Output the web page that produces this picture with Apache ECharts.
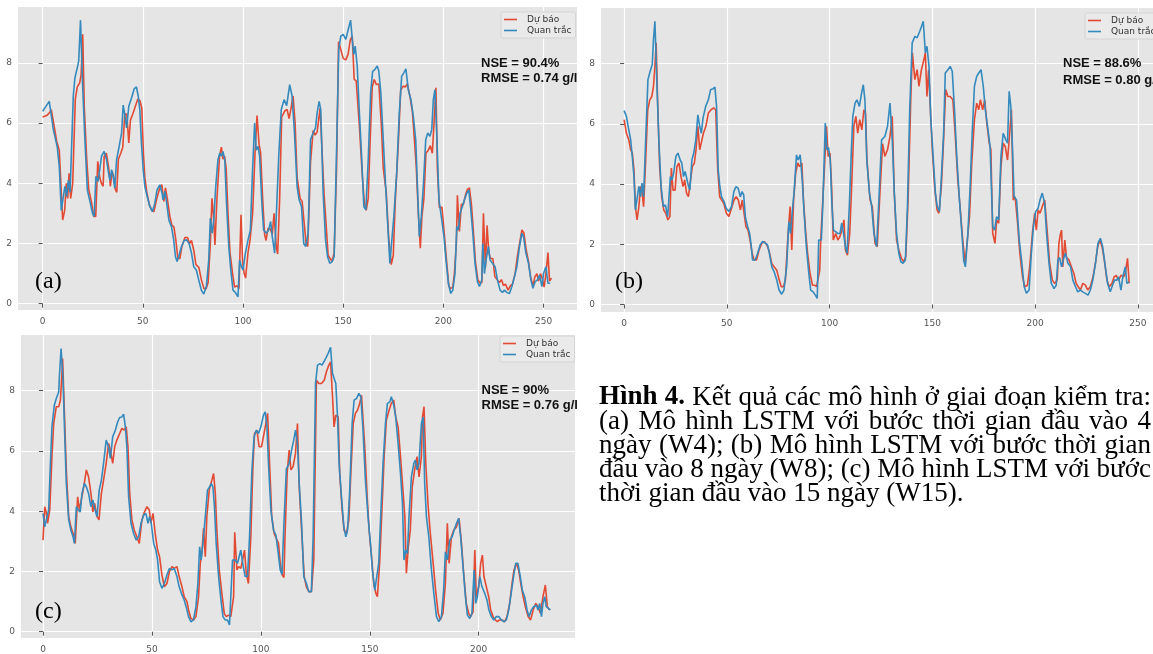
<!DOCTYPE html>
<html>
<head>
<meta charset="utf-8">
<script type="text/javascript" src="https://cdn.jsdelivr.net/npm/echarts@6/dist/echarts.min.js"></script>
<style>
  body { margin: 0; background: #fff; }
  #main { width: 1153px; height: 654px; }
</style>
</head>
<body>
<div id="main"></div>
<script type="text/javascript">
// ---- so lieu doc tu hinh: [buoc thoi gian, do man g/l] ----
// (a) W4
var duBaoA = [[0,6.2],[2,6.25],[3.5,6.35],[4.3,6.45],[5.5,6.0],[7,5.4],[8.3,5.1],[9.3,3.7],[10,2.78],[11,3.1],[11.8,4.0],[12.5,3.5],[13.2,4.33],[14,3.5],[15,4.0],[16.3,6.8],[17.3,7.2],[18.5,7.34],[19.2,7.6],[20,8.95],[20.8,6.5],[22,4.8],[23,3.8],[24.3,3.4],[25.5,2.9],[26.5,2.9],[27.5,4.73],[28.5,4.2],[29.3,4.0],[30.2,3.9],[30.7,4.9],[31.8,5.0],[33,4.5],[33.8,3.9],[34.7,4.4],[35.5,4.2],[36.3,3.8],[37,3.7],[37.8,4.8],[39,5.0],[40,5.2],[41,6.3],[42,6.3],[43,5.34],[43.8,6.1],[45,6.3],[46.5,6.6],[47.5,6.8],[48.5,6.75],[49.5,6.5],[50.3,5.0],[51,4.2],[52,3.7],[53.2,3.3],[54.5,3.1],[55.5,3.05],[57,3.5],[58.5,3.85],[59.5,3.95],[60.5,3.4],[61.3,3.85],[62.2,3.5],[63.5,2.9],[64.5,2.6],[65.5,2.55],[66.5,2.1],[67.5,1.5],[68.5,1.5],[69.5,1.9],[71,2.2],[72.3,2.2],[73.3,2.0],[74.3,2.1],[75.5,1.75],[76.5,1.3],[78,1.2],[79.2,0.8],[80.5,0.5],[81.6,0.5],[82.6,0.7],[83.7,2.0],[84.5,3.5],[85.3,2.9],[86,1.95],[87,3.5],[88.3,4.9],[89.2,5.2],[90,4.8],[90.8,4.9],[91.6,4.5],[92.5,3.0],[93.5,1.7],[94.8,1.0],[95.8,0.55],[97,0.6],[98,0.5],[99,2.95],[99.8,1.4],[100.6,1.0],[101.3,0.85],[102.5,1.7],[103.5,2.1],[104.8,3.0],[106,5.0],[107,6.25],[108,5.3],[108.8,5.0],[109.8,3.5],[110.8,2.3],[111.5,2.1],[112.5,2.5],[113.5,2.5],[114.6,2.3],[115.5,3.0],[116.6,1.9],[117.3,1.65],[118.3,3.5],[119.3,6.2],[120.8,6.4],[122,6.45],[123,6.15],[124,6.5],[125,6.9],[126,6.0],[127,4.2],[128.5,3.5],[129.5,3.4],[130.5,2.7],[131.5,2.0],[132.3,1.9],[133,3.2],[133.7,4.7],[135,5.75],[136,5.6],[137,5.7],[138.5,6.5],[139.5,5.0],[140.5,3.6],[141.5,2.6],[142.5,1.6],[143.5,1.5],[144.5,1.4],[145.5,1.7],[146.7,4.5],[147.7,8.7],[149,8.4],[150,8.15],[151.3,8.1],[152.5,8.3],[153.5,8.75],[154.5,8.9],[155.5,7.45],[156.5,7.4],[158,6.0],[159.5,4.3],[160.5,3.4],[161.5,3.1],[162.5,3.5],[163.5,5.5],[164.5,7.2],[165.5,7.45],[166.5,7.28],[167.8,7.3],[169,6.0],[170,4.5],[171.5,3.7],[172.7,2.2],[174,1.3],[175,1.6],[176,3.4],[177.5,5.3],[178.7,7.1],[180,7.23],[181,7.2],[182,7.3],[183.3,6.9],[184.5,6.4],[185.5,5.5],[186.5,4.5],[187.5,3.0],[188.5,1.84],[189.3,2.9],[190.3,3.5],[191.3,5.0],[192.5,5.1],[193.5,5.25],[194.5,5.0],[196.3,7.17],[197,4.5],[198,3.2],[199.3,3.2],[200.5,2.3],[201.5,1.5],[202.7,0.6],[203.5,0.5],[204.7,0.55],[205.5,1.0],[206.5,2.0],[207,3.6],[208,2.4],[209,3.3],[210,3.3],[211,3.6],[212,3.8],[213,3.85],[214,3.3],[215,2.4],[216,1.4],[217.2,0.8],[218.2,0.7],[219.2,0.7],[220,3.0],[221,1.2],[221.8,2.6],[222.7,1.7],[223.5,1.5],[224.7,1.5],[225.7,0.9],[226.8,0.8],[228,0.7],[229,0.8],[230,0.6],[231,0.65],[232.3,0.45],[233.5,0.6],[234.5,0.65],[235.8,1.0],[237,1.6],[238.3,2.1],[239.2,2.45],[240.2,2.35],[241.3,1.8],[242.5,1.4],[243.5,0.9],[244.7,0.6],[245.7,0.9],[246.7,1.0],[247.5,0.75],[248.5,1.0],[249.5,0.8],[250.3,0.55],[251.2,1.0],[252.2,1.7],[253,0.75],[254,0.85]];
var quanTracA = [[0,6.39],[3.3,6.72],[5.3,5.8],[7.3,5.2],[8.3,4.56],[9.3,3.1],[11.1,3.9],[12,3.56],[12.8,4.1],[13.7,3.7],[15.3,6.9],[16.1,7.5],[17.3,7.84],[18,8.06],[18.9,9.42],[19.9,7.34],[21.1,5.45],[22.3,3.78],[23.6,3.4],[24.9,3.0],[25.7,2.9],[26.6,4.23],[27.7,4.06],[28.6,4.1],[29.4,4.9],[30.7,5.06],[31.9,4.78],[32.9,4.34],[33.6,4.1],[34.4,4.45],[35.2,4.23],[36,3.84],[36.9,4.78],[38.2,5.23],[39.4,5.67],[40.2,6.6],[41,6.28],[41.9,5.84],[43,6.56],[44.4,6.84],[45.7,7.14],[46.8,7.2],[47.7,6.9],[48.5,6.45],[49.3,5.34],[50.2,4.45],[51,3.9],[52.2,3.56],[53.5,3.23],[54.8,3.06],[56,3.34],[57.1,3.78],[58.5,3.95],[59.6,3.67],[60.1,3.45],[61,3.73],[61.8,3.4],[63,2.78],[64.3,2.56],[65.4,2.12],[66.3,1.56],[67.1,1.4],[67.9,1.56],[69.3,1.9],[70.6,2.1],[71.8,2.12],[73.1,2.0],[74.3,1.68],[75.4,1.23],[76.7,1.12],[77.9,0.79],[79.2,0.45],[80.4,0.32],[81.7,0.57],[82.9,1.45],[83.7,2.84],[84.6,2.34],[85.4,2.78],[86.4,3.9],[87.5,4.78],[88.4,5.0],[89.2,4.9],[90,5.06],[90.9,4.78],[91.7,3.45],[92.9,1.9],[93.9,1.12],[95,0.45],[96.2,0.37],[97.5,0.23],[98.3,1.45],[99.2,1.23],[100,1.12],[101.2,1.68],[102.5,2.12],[103.7,2.45],[104.7,4.34],[105.8,6.0],[106.6,5.1],[107.5,5.23],[108.3,4.9],[109.5,3.23],[110.3,2.45],[111.6,2.34],[112.8,2.45],[113.8,2.73],[114.6,2.23],[115.8,1.68],[116.6,2.9],[117.9,5.0],[119.1,6.45],[120.5,6.78],[121.8,6.58],[123.3,7.28],[124.5,6.9],[125.6,5.78],[127,3.9],[128,3.45],[129.2,3.23],[130.3,2.0],[131.3,1.9],[132.5,2.34],[133.7,5.45],[135,5.67],[136.2,5.84],[137,6.34],[138,6.72],[138.8,6.45],[140,3.67],[141.2,2.12],[142.2,1.56],[143.3,1.34],[144.5,1.4],[145.5,1.56],[146.7,5.12],[147.8,8.45],[148.8,8.89],[150,8.95],[151.3,8.78],[152.5,9.1],[153.7,9.42],[154.7,8.67],[155.3,8.28],[156,8.56],[157,7.9],[158,6.45],[159.2,4.9],[160.3,3.23],[161.3,3.12],[162.5,4.78],[163.7,7.0],[164.7,7.72],[165.8,7.78],[167,7.9],[167.8,7.72],[168.8,7.0],[170,5.45],[171.2,3.9],[172.2,2.67],[173.3,1.34],[174.2,1.34],[175.3,2.9],[176.7,4.34],[178,6.34],[179.2,7.56],[180.3,7.67],[181.3,7.8],[182.5,7.11],[183.8,6.78],[185,6.23],[186.2,5.45],[187.2,3.67],[188,2.23],[189,2.9],[190,3.9],[191.2,5.45],[192.2,5.67],[193.3,5.56],[194.2,5.78],[195,6.78],[195.8,7.11],[196.7,5.67],[197.8,3.45],[199.2,2.78],[200.3,2.23],[201.3,1.45],[202.5,0.68],[203.7,0.34],[204.7,0.45],[205.8,1.0],[206.7,2.56],[207.5,2.45],[208.3,3.0],[209.5,3.23],[210.5,3.45],[211.7,3.67],[212.7,3.78],[213.7,3.12],[214.7,2.34],[215.8,1.34],[217,0.73],[218,0.57],[219.2,0.79],[219.7,2.0],[220.5,1.0],[221.3,1.45],[222.5,1.9],[223.3,1.45],[224.5,1.34],[225.8,1.23],[227,0.79],[228.3,0.45],[229.5,0.37],[230.5,0.45],[231.7,0.37],[233,0.34],[234.2,0.57],[235.5,0.9],[236.7,1.23],[238,1.9],[239.2,2.34],[240,2.23],[241.2,1.68],[242.5,1.34],[243.7,0.79],[244.7,0.51],[245.8,0.73],[247,0.79],[248,0.95],[249.2,0.57],[250,1.0],[251.2,1.23],[252.2,0.68],[253.3,0.68]];

// (b) W8
var duBaoB = [[0,6.14],[1.1,5.7],[2.3,5.47],[3.2,5.14],[4,5.03],[4.8,4.47],[5.5,3.25],[6.3,2.81],[7.2,3.25],[8,3.92],[8.7,3.75],[9.5,3.25],[10.5,4.8],[11.5,6.47],[12.5,6.8],[13.5,6.91],[14.3,7.25],[15,7.91],[15.6,8.69],[16.3,6.8],[17.3,4.58],[18.3,3.58],[19.3,3.14],[20.3,3.03],[21.3,2.81],[22.3,2.92],[23,4.53],[23.8,3.8],[24.8,3.8],[25.7,4.58],[26.7,4.7],[27.7,4.25],[28.7,3.92],[29.5,4.14],[30.4,3.7],[31.3,3.58],[32.2,3.58],[33.2,4.58],[34.2,4.7],[35,5.14],[35.9,5.92],[36.8,5.14],[37.7,5.14],[38.6,5.69],[39.8,5.92],[41,6.36],[42.3,6.47],[43.6,6.53],[44.6,6.47],[45.5,4.58],[46.5,3.58],[47.3,3.64],[48.5,3.36],[49.8,3.03],[51,2.92],[52.5,3.25],[53.5,3.47],[54.5,3.58],[55.6,3.47],[56.6,3.14],[57.5,3.47],[58.4,3.03],[59.3,2.59],[60.3,2.47],[61.3,2.14],[62.3,1.7],[63.3,1.48],[64.5,1.48],[65.7,1.81],[67,2.03],[68.2,2.09],[69.5,1.98],[70.7,1.75],[71.8,1.37],[73,1.25],[74.3,1.14],[75.5,0.81],[76.5,0.59],[77.5,0.59],[78.5,0.81],[79.8,2.36],[80.8,3.25],[81.6,1.81],[82.5,3.47],[83.5,4.36],[84.5,4.7],[85.5,4.58],[86.5,4.7],[87.3,3.47],[88.3,2.47],[89.3,1.7],[90.5,1.03],[91.7,0.64],[92.7,0.64],[93.7,0.59],[95.2,1.14],[95.7,2.14],[96.5,2.14],[97.7,4.8],[98.5,5.92],[99.3,4.92],[100.2,5.03],[101,3.92],[101.8,2.14],[103,2.36],[104,2.14],[105,2.25],[106,2.47],[107,2.81],[107.7,1.81],[108.7,1.64],[109.8,2.36],[110.8,4.03],[111.8,5.92],[112.8,6.25],[113.7,5.69],[114.7,6.14],[115.7,5.8],[116.7,6.47],[117.5,6.36],[118.2,4.8],[119.7,3.47],[120.8,3.25],[122.1,2.03],[123.2,1.92],[124.5,3.7],[125.8,5.34],[126.9,4.92],[128.2,5.14],[129.4,5.58],[130.5,6.25],[131.5,3.7],[132.6,2.14],[133.7,1.81],[135,1.53],[136.1,1.42],[137.1,1.59],[138.2,3.47],[139.5,6.8],[140.3,8.36],[141.5,7.47],[142.6,7.8],[143.5,7.25],[144.7,7.8],[145.5,8.02],[146.6,8.36],[147.4,6.91],[148.2,7.8],[149,6.58],[150,5.14],[151.1,3.92],[152.3,3.14],[153.2,3.03],[154.4,3.92],[155.5,5.47],[156.5,7.14],[157.6,6.91],[158.7,6.91],[160,6.8],[161.1,5.69],[162.4,4.14],[163.5,3.25],[164.8,2.14],[166,1.37],[166.9,1.37],[168.1,2.92],[169.2,4.7],[170.5,6.14],[171.6,6.69],[172.6,6.47],[173.4,6.8],[174.5,6.47],[175.5,6.8],[176.5,6.03],[177.7,5.36],[178.5,5.14],[179.4,2.36],[180.5,2.03],[181.3,2.81],[182.3,2.7],[183.4,4.58],[184.5,5.36],[185.5,5.25],[186.6,4.8],[187.4,5.47],[188.5,6.47],[189.4,3.47],[190.3,3.58],[191.5,2.7],[192.6,1.7],[193.9,0.92],[195,0.59],[196.3,0.64],[197.4,1.25],[198.7,2.36],[199.8,3.03],[200.6,2.47],[201.5,3.14],[202.4,3.03],[203.5,3.25],[204.7,3.47],[206,2.36],[207.1,1.37],[208.4,0.81],[209.5,0.7],[210.8,0.81],[211.6,2.03],[212.4,2.36],[212.9,2.47],[213.5,1.25],[214.5,2.14],[215.3,1.56],[216.5,1.48],[217.7,1.25],[218.9,1.03],[220,0.7],[221,0.59],[222.1,0.48],[223.2,0.7],[224.5,0.64],[225.6,0.48],[226.9,0.59],[228.2,0.92],[229.4,1.37],[230.5,1.92],[231.5,2.14],[232.6,1.92],[233.7,1.48],[235,0.81],[236.1,0.59],[237.4,0.7],[238.5,0.92],[239.5,0.97],[240.6,0.81],[241.8,0.97],[243.1,0.92],[243.9,1.03],[245,1.53],[245.8,0.7]];
var quanTracB = [[0,6.44],[1.1,6.25],[2.3,5.8],[3.2,5.47],[4,4.9],[4.8,4.25],[5.5,3.14],[6.3,3.14],[7.2,3.92],[8,3.58],[8.7,4.03],[9.5,3.58],[10.5,5.47],[11.6,7.47],[12.7,7.75],[13.7,7.97],[14.3,8.8],[15,9.41],[15.9,7.47],[16.9,5.47],[18,3.92],[19.1,3.25],[20.1,3.31],[21.2,2.92],[22,2.86],[22.5,4.25],[23.3,4.14],[24.1,4.36],[25.2,4.92],[26.2,5.03],[27.3,4.8],[28.1,4.7],[28.9,4.25],[29.7,4.42],[30.4,4.36],[31.2,3.97],[32,3.8],[33,4.8],[33.9,5.03],[34.9,5.47],[35.9,6.3],[36.8,5.92],[37.6,5.69],[38.4,6.19],[39.7,6.58],[41,6.8],[42.1,7.14],[43.2,7.16],[44.2,7.22],[45,6.58],[45.8,4.47],[46.6,3.92],[47.4,3.58],[48.6,3.42],[49.7,3.2],[51,3.09],[52.3,3.25],[53.4,3.75],[54.5,3.92],[55.5,3.86],[56.6,3.58],[57.4,3.75],[58.2,3.64],[59,2.92],[60.1,2.59],[61.1,2.36],[61.9,1.92],[62.5,1.48],[63.8,1.48],[65,1.7],[66.2,1.98],[67.4,2.09],[68.6,2.05],[69.8,1.98],[70.7,1.7],[71.9,1.25],[73,1.09],[74.3,0.81],[75.4,0.48],[76.7,0.34],[77.8,0.48],[79.1,1.25],[80.2,2.75],[81,2.36],[81.8,3.03],[82.8,3.8],[83.9,4.97],[84.7,4.8],[85.7,4.97],[86.7,4.14],[87.6,3.03],[88.7,1.92],[89.9,1.03],[90.8,0.48],[92,0.42],[93.1,0.31],[94,0.2],[94.7,2.14],[96,2.14],[96.8,3.47],[97.9,6.03],[98.7,5.14],[99.5,5.22],[100.3,4.8],[101.1,3.36],[101.9,2.47],[102.9,2.42],[104,2.36],[105.1,2.36],[105.9,2.7],[106.8,2.36],[107.7,1.92],[108.5,1.7],[109.6,3.25],[110.5,4.92],[111.3,6.25],[112.4,6.69],[113.3,6.8],[114.5,6.58],[115.6,7.03],[116.4,7.3],[117.2,6.8],[118.1,4.8],[119.4,3.7],[120.5,3.25],[121.6,2.36],[122.9,1.92],[124,3.47],[125.3,5.47],[126.9,5.58],[128.2,5.92],[129.4,6.69],[130.5,5.47],[131.5,3.7],[132.6,2.36],[133.7,1.7],[134.7,1.42],[135.8,1.37],[136.9,1.48],[137.9,3.25],[139,6.47],[140.2,8.69],[141.5,8.91],[142.6,8.86],[143.9,9.08],[144.8,9.25],[145.6,9.41],[146.6,8.36],[147.4,8.58],[148.4,7.91],[149.2,6.25],[150.3,5.03],[151.5,3.7],[152.4,3.25],[153.5,3.09],[154.5,4.36],[155.5,5.69],[156.3,7.69],[157.6,7.8],[158.7,7.91],[159.7,7.75],[160.8,6.47],[161.9,4.92],[163.2,3.47],[164.4,2.36],[165.3,1.45],[166.1,1.25],[167.3,2.36],[168.4,3.92],[169.4,5.69],[170.5,7.25],[171.6,7.58],[172.6,7.69],[173.7,7.8],[174.8,7.25],[175.8,6.47],[176.9,5.92],[178.1,5.25],[179.4,2.59],[180.3,2.47],[181.3,2.92],[182.3,2.81],[183.4,4.92],[184.5,5.69],[185.8,5.47],[186.6,5.36],[187.4,7.08],[188.2,6.58],[189,5.25],[189.8,3.58],[191,3.47],[192.3,2.14],[193.4,1.48],[194.7,0.59],[195.8,0.37],[197.1,0.48],[198.2,1.7],[199.2,2.59],[200.3,3.09],[201.5,3.2],[202.4,3.47],[203.5,3.7],[204.7,3.36],[205.6,2.36],[206.8,1.37],[207.9,0.7],[209.2,0.53],[210.3,0.64],[211.1,1.48],[211.9,1.56],[212.9,1.25],[214,1.56],[214.8,1.7],[216,1.37],[217.3,1.25],[218.4,0.81],[219.7,0.59],[220.8,0.42],[222.1,0.48],[223.2,0.42],[224.5,0.37],[225.8,0.31],[226.9,0.48],[228.1,0.81],[229.4,1.37],[230.6,2.03],[231.8,2.2],[232.9,1.92],[234.2,1.25],[235.3,0.7],[236.6,0.42],[237.7,0.64],[238.7,0.81],[239.8,0.81],[240.6,0.92],[241.8,0.48],[242.7,0.92],[243.9,1.25],[244.7,0.7],[245.8,0.75]];

// (c) W15
var duBaoC = [[0,3.04],[0.8,4.15],[1.4,3.98],[2.1,3.6],[3.1,4.04],[4.1,5.81],[4.9,6.91],[6.1,7.47],[7.2,7.47],[8,7.69],[8.6,8.46],[9,9.07],[9.9,7.13],[10.7,5.37],[11.8,3.82],[12.8,3.48],[13.8,3.26],[14.8,2.93],[15.9,4.48],[16.7,4.04],[17.6,3.98],[18.7,4.81],[19.9,5.37],[20.9,5.14],[22,4.59],[22.9,3.98],[23.7,4.26],[24.8,3.82],[25.7,3.71],[26.8,4.59],[27.8,5.03],[29,5.59],[30.1,6.25],[30.9,6.03],[32,5.59],[32.9,6.14],[33.9,6.36],[35.2,6.58],[36.2,6.75],[37.3,6.69],[38.2,6.8],[39,6.14],[39.8,4.59],[40.8,3.71],[41.9,3.37],[43.1,3.15],[44.2,2.93],[45.4,3.71],[46.6,3.98],[47.7,4.15],[48.8,4.04],[49.5,3.6],[50.5,3.93],[51.5,3.26],[52.6,2.71],[53.5,2.49],[54.6,1.88],[55.7,1.49],[56.9,1.6],[58,1.99],[59.2,2.16],[60.2,2.1],[61.5,2.16],[62.5,1.83],[63.8,1.49],[64.8,1.16],[66.1,1.0],[66.8,0.72],[67.9,0.44],[69.1,0.39],[70.2,0.5],[71.4,1.16],[72.2,2.27],[72.9,2.6],[73.7,3.43],[74.5,2.49],[75.2,3.82],[76.3,4.7],[77.2,4.7],[78.3,5.25],[79.1,4.59],[79.8,3.37],[80.9,2.05],[82.1,1.27],[83.2,0.61],[84.1,0.5],[85.2,0.55],[86.2,0.5],[87.5,1.16],[88,3.3],[89,2.05],[89.8,2.16],[90.8,2.1],[91.6,2.38],[92.5,2.71],[93.3,1.94],[94.3,1.6],[95.4,3.15],[96.3,5.37],[97.1,6.58],[98.2,6.69],[99.2,6.14],[100.3,6.14],[101.2,6.14],[102.3,6.91],[103.1,7.25],[104,5.59],[105,3.82],[106.1,3.26],[107,3.26],[108.1,2.93],[108.9,2.27],[109.7,1.9],[110.6,1.8],[111.1,3.2],[112.1,5.3],[113,6.03],[113.8,5.37],[114.8,5.48],[115.9,5.92],[116.8,6.91],[117.6,4.81],[118.7,3.37],[119.9,1.83],[120.9,1.49],[122,1.33],[123.2,1.33],[124.3,2.38],[125.5,8.35],[126.6,8.24],[127.8,8.24],[129.1,8.35],[130.1,8.63],[131.2,8.85],[132,8.96],[132.9,7.8],[133.6,6.8],[134.4,7.19],[135.5,7.13],[136.2,5.25],[137.3,4.04],[138.2,3.37],[139.3,3.26],[140.4,3.71],[141.3,5.25],[142.4,6.91],[143.4,7.25],[144.4,7.36],[145.4,7.58],[146.2,7.85],[146.9,7.89],[147.7,6.14],[148.8,4.48],[149.7,3.37],[150.8,2.49],[151.8,1.6],[152.8,1.27],[153.5,1.16],[154.6,2.38],[155.7,4.26],[156.6,5.81],[157.6,7.02],[158.9,7.36],[159.9,7.58],[161,7.69],[161.9,7.13],[163,6.8],[164.1,5.81],[165,4.92],[166.1,3.82],[166.8,1.94],[167.7,2.82],[168.6,3.37],[169.5,4.81],[170.6,5.37],[171.7,5.81],[172.6,5.14],[173.7,5.81],[174.2,7.13],[174.9,7.47],[175.7,5.59],[176.8,4.15],[177.8,3.26],[179.1,2.27],[180.2,1.38],[181.4,0.61],[182.4,0.39],[183.6,0.61],[184.7,1.6],[185.6,3.6],[186.4,2.27],[187.5,3.15],[188.5,3.37],[189.8,3.48],[191,3.76],[192.1,2.93],[193.1,1.94],[194.3,0.94],[195.4,0.61],[196.3,0.5],[197.4,0.66],[198.2,2.71],[198.9,1.16],[200,1.49],[200.9,2.27],[201.7,2.54],[202.4,1.83],[203.5,1.49],[204.6,1.16],[205.5,0.72],[206.6,0.5],[207.6,0.39],[208.6,0.33],[209.6,0.39],[210.7,0.39],[211.9,0.33],[213,0.5],[214.2,0.94],[215.3,1.6],[216.2,2.05],[217.3,2.27],[218.3,2.05],[219.3,1.6],[220.4,1.16],[221.4,0.83],[222.7,0.5],[223.8,0.39],[225,0.72],[226.2,0.94],[227.3,0.83],[228.3,0.61],[229.5,1.16],[230.6,1.55],[231.5,0.83],[232.6,0.72]];
var quanTracC = [[0,3.93],[0.8,3.48],[1.5,3.71],[2.6,4.04],[3.4,5.59],[4.1,6.8],[5.2,7.52],[6.1,7.74],[7.2,7.96],[7.6,8.57],[8.3,9.4],[9.2,8.35],[9.9,6.69],[10.7,4.92],[11.8,3.71],[12.8,3.37],[13.8,3.15],[14.4,2.93],[15.3,4.15],[16.1,4.04],[17.1,3.98],[17.9,4.59],[19,4.92],[19.9,4.81],[20.9,4.59],[22,4.15],[22.9,4.37],[23.7,4.09],[24.8,3.82],[25.8,4.7],[26.8,5.03],[27.8,5.59],[29,6.36],[30.1,6.14],[30.9,5.75],[32,6.47],[33.2,6.69],[34.3,6.97],[35.2,7.11],[36.2,7.13],[37,7.22],[37.8,6.8],[38.5,6.14],[39.3,4.48],[40.4,3.6],[41.6,3.26],[42.8,3.04],[43.9,3.15],[45,3.6],[46.2,3.87],[47.2,3.93],[48.2,3.6],[48.9,3.82],[49.7,3.6],[50.8,2.93],[51.8,2.71],[52.6,2.38],[53.5,1.66],[54.6,1.44],[55.7,1.6],[56.9,1.88],[58,2.1],[59.2,2.05],[60.2,2.1],[61.5,1.83],[62.5,1.49],[63.8,1.22],[64.8,1.05],[65.7,0.83],[66.8,0.5],[67.9,0.33],[69.1,0.39],[70.2,0.83],[71.1,1.6],[71.9,2.82],[72.6,2.38],[73.4,2.93],[74.5,3.82],[75.5,4.7],[76.5,4.81],[77.2,4.92],[78,4.81],[78.7,4.15],[79.5,2.93],[80.6,1.83],[81.7,1.05],[82.6,0.5],[83.6,0.39],[84.7,0.39],[85.6,0.22],[86.2,0.28],[87,2.38],[88.2,2.38],[89.3,2.27],[90.2,2.21],[90.8,2.71],[91.7,2.27],[92.8,1.83],[93.9,1.83],[94.8,3.15],[95.9,5.37],[96.9,6.47],[97.9,6.69],[98.9,6.58],[100,6.8],[101.2,7.19],[102,7.3],[102.8,6.8],[103.5,5.59],[104.6,4.04],[105.8,3.37],[106.9,3.21],[107.8,2.71],[108.9,2.05],[109.7,1.9],[110.6,3.6],[111.7,5.4],[113,5.59],[114.1,6.03],[115.1,6.36],[115.9,6.69],[116.8,6.25],[117.6,4.92],[118.7,3.6],[119.7,1.83],[120.9,1.6],[122,1.33],[123.2,1.33],[124,3.15],[125.1,8.24],[126,8.85],[127.1,8.9],[128.1,8.85],[129.4,9.02],[130.9,9.24],[132,9.44],[132.9,8.57],[133.6,8.63],[134.4,8.24],[135.2,7.13],[135.9,5.59],[137,4.48],[138.1,3.48],[139,3.15],[139.8,3.37],[140.8,4.7],[141.9,6.91],[142.8,7.69],[143.9,7.74],[145,7.91],[145.9,7.8],[146.9,6.69],[148,5.03],[149.2,3.82],[150.3,2.93],[151.2,2.05],[152.3,1.38],[153.1,1.33],[154.1,2.27],[155,3.82],[156.1,5.59],[157.2,6.91],[158.1,7.58],[159.2,7.63],[159.9,7.8],[161,7.52],[161.9,7.13],[163,6.25],[164.1,5.25],[165,4.26],[165.7,2.38],[166.5,2.71],[167.3,2.6],[168,3.82],[169.1,5.14],[170.2,5.59],[170.9,5.7],[171.7,5.37],[172.6,5.59],[173.7,6.91],[174.5,7.13],[175.2,4.92],[176,3.82],[177.1,3.15],[178.3,2.05],[179.4,1.27],[180.6,0.5],[181.7,0.33],[182.9,0.5],[183.9,1.38],[184.7,2.65],[185.6,2.38],[186.7,3.04],[187.8,3.15],[188.7,3.37],[189.8,3.6],[190.8,3.76],[191.7,3.15],[192.8,2.16],[193.9,1.16],[194.8,0.55],[195.9,0.44],[196.9,0.61],[197.9,2.05],[198.6,0.94],[199.4,1.16],[200.5,1.83],[201.5,1.49],[202.8,1.27],[203.8,1.05],[204.7,0.72],[205.8,0.5],[206.9,0.39],[208.1,0.5],[209.2,0.5],[210.4,0.39],[211.5,0.33],[212.7,0.39],[213.8,0.72],[214.9,1.27],[216,1.83],[217,2.27],[218,2.27],[219.1,1.83],[220,1.38],[221.1,1.16],[222.2,0.72],[223.1,0.5],[224.2,0.72],[225.2,0.83],[226.5,0.88],[227.2,0.72],[228,0.94],[228.8,0.5],[229.5,0.94],[230.3,1.16],[231,0.83],[231.8,0.77],[232.9,0.72]];

// nhan truc
var xTicksAB = [0, 50, 100, 150, 200, 250];
var xTicksC = [0, 50, 100, 150, 200];
var yTicks = [0, 2, 4, 6, 8];
var tenChuGiai = ['Dự báo', 'Quan trắc'];
var chiSo = [
  ['NSE = 90.4%', 'RMSE = 0.74 g/l'],
  ['NSE = 88.6%', 'RMSE = 0.80 g/l'],
  ['NSE = 90%', 'RMSE = 0.76 g/l']
];
var captionLines = [
  'Hình 4. Kết quả các mô hình ở giai đoạn kiểm tra:',
  '(a) Mô hình LSTM với bước thời gian đầu vào 4',
  'ngày (W4); (b) Mô hình LSTM với bước thời gian',
  'đầu vào 8 ngày (W8); (c) Mô hình LSTM với bước',
  'thời gian đầu vào 15 ngày (W15).'
];

var RED = '#E24A33', BLUE = '#348ABD', TICK = '#555555';

// bo tri 3 o do thi
var panels = [
  { grid: {left: 18, top: 7, width: 559, height: 303}, x: [-12.3, 266.7], y: [-0.21, 9.857], xTicks: xTicksAB,
    duBao: duBaoA, quanTrac: quanTracA, legend: {left: 501, top: 12}, nse: [481, 63, 78.5], tag: '(a)', tagPos: [35, 282] },
  { grid: {left: 601, top: 8, width: 557, height: 304}, x: [-11.24, 257.4], y: [-0.25, 9.85], xTicks: xTicksAB,
    duBao: duBaoB, quanTrac: quanTracB, legend: {left: 1085, top: 13}, nse: [1063, 63.5, 80], tag: '(b)', tagPos: [615, 282] },
  { grid: {left: 21, top: 335, width: 554, height: 303}, x: [-10.1, 244.2], y: [-0.21, 9.85], xTicks: xTicksC,
    duBao: duBaoC, quanTrac: quanTracC, legend: {left: 500, top: 336}, nse: [481.5, 390, 405.5], tag: '(c)', tagPos: [35, 612] }
];

var grids = [], xAxes = [], yAxes = [], series = [], legends = [], graphics = [];

panels.forEach(function (p, i) {
  grids.push(Object.assign({show: true, backgroundColor: '#E5E5E5', borderWidth: 0, containLabel: false}, p.grid));
  xAxes.push({
    type: 'value', gridIndex: i, min: p.x[0], max: p.x[1],
    axisLine: {show: false},
    axisTick: {show: true, length: 4, customValues: p.xTicks, lineStyle: {color: TICK, width: 1}},
    axisLabel: {customValues: p.xTicks, fontSize: 9, color: TICK, margin: 7, fontFamily: 'DejaVu Sans'},
    splitLine: {show: true, lineStyle: {color: '#ffffff', width: 1.2}}
  });
  yAxes.push({
    type: 'value', gridIndex: i, min: p.y[0], max: p.y[1],
    axisLine: {show: false},
    axisTick: {show: true, length: 4, customValues: yTicks, lineStyle: {color: TICK, width: 1}},
    axisLabel: {customValues: yTicks, fontSize: 9, color: TICK, margin: 6, fontFamily: 'DejaVu Sans'},
    splitLine: {show: true, lineStyle: {color: '#ffffff', width: 1.2}}
  });
  series.push({
    name: tenChuGiai[0], type: 'line', xAxisIndex: i, yAxisIndex: i, data: p.duBao,
    showSymbol: false, symbol: 'none', itemStyle: {color: RED}, lineStyle: {color: RED, width: 1.6}
  });
  series.push({
    name: tenChuGiai[1], type: 'line', xAxisIndex: i, yAxisIndex: i, data: p.quanTrac,
    showSymbol: false, symbol: 'none', itemStyle: {color: BLUE}, lineStyle: {color: BLUE, width: 1.6}
  });
  legends.push({
    data: tenChuGiai, orient: 'vertical', left: p.legend.left, top: p.legend.top,
    icon: 'rect', itemWidth: 13, itemHeight: 1.6, itemGap: 2, selectedMode: false,
    padding: [3, 4, 3, 3], backgroundColor: '#EAEAEA', borderColor: '#D4D4D4', borderWidth: 1, borderRadius: 2,
    textStyle: {fontSize: 9, color: '#333', fontFamily: 'DejaVu Sans', padding: [0, 0, 0, 5]}
  });
  chiSo[i].forEach(function (t, k) {
    graphics.push({
      type: 'text', x: p.nse[0], y: p.nse[1 + k], z: 10,
      style: {text: t, fontSize: 13, fontWeight: 'bold', fontFamily: 'Liberation Sans', fill: '#111', verticalAlign: 'middle'}
    });
  });
  graphics.push({
    type: 'text', x: p.tagPos[0], y: p.tagPos[1], z: 10,
    style: {text: p.tag, fontSize: 24, fontFamily: 'Liberation Serif', fill: '#000', verticalAlign: 'middle'}
  });
});

// chu thich hinh, canh deu hai ben
var capLeft = 599, capRight = 1151, capY = 397.5, capStep = 24, capSize = 27;
var ctx = document.createElement('canvas').getContext('2d');
function doRong(t, dam) {
  ctx.font = (dam ? 'bold ' : '') + capSize + 'px "Liberation Serif"';
  return ctx.measureText(t).width;
}
captionLines.forEach(function (line, i) {
  var words = line.split(' ');
  var dam = words.map(function (w, j) { return i === 0 && j < 2; });
  var rong = words.map(function (w, j) { return doRong(w, dam[j]); });
  var tong = rong.reduce(function (a, b) { return a + b; }, 0);
  var cuoi = i === captionLines.length - 1;
  var gap = cuoi ? doRong(' ', false) : (capRight - capLeft - tong) / (words.length - 1);
  var x = capLeft;
  words.forEach(function (w, j) {
    graphics.push({
      type: 'text', x: x, y: capY + i * capStep,
      style: {text: w, fontSize: capSize, fontWeight: dam[j] ? 'bold' : 'normal', fontFamily: 'Liberation Serif', fill: '#000', verticalAlign: 'middle'}
    });
    x += rong[j] + gap;
  });
});

var myChart = echarts.init(document.getElementById('main'), null, {renderer: 'canvas'});
myChart.setOption({
  animation: false,
  backgroundColor: '#ffffff',
  grid: grids,
  xAxis: xAxes,
  yAxis: yAxes,
  legend: legends,
  series: series,
  graphic: graphics
});
</script>
</body>
</html>
